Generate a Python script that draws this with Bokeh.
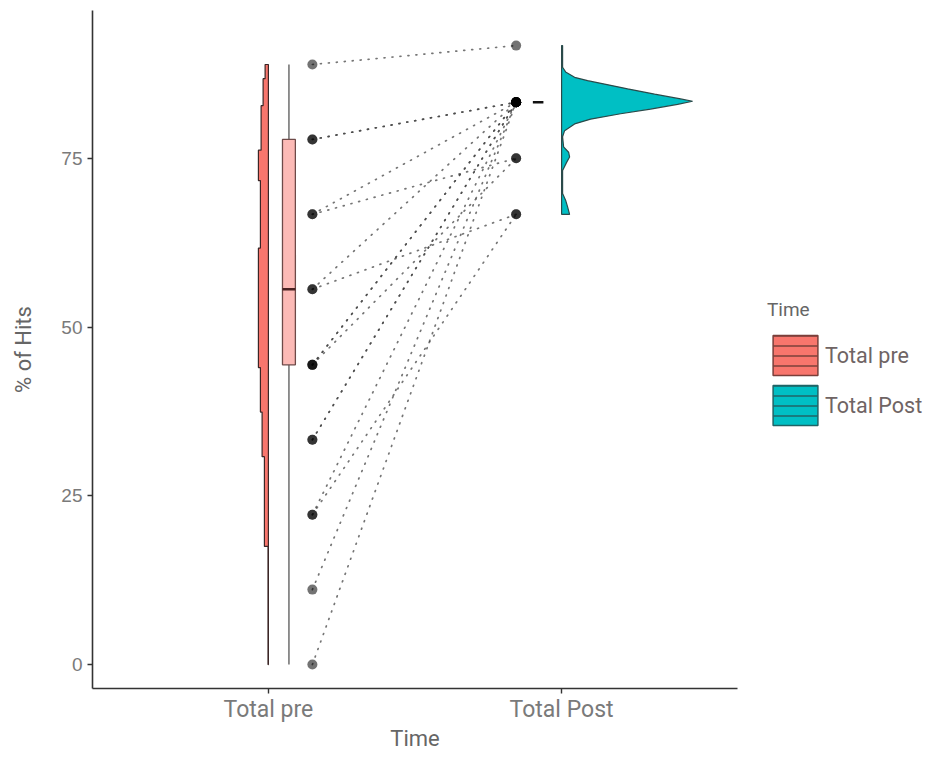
from bokeh.plotting import figure
from bokeh.models import Range1d, FixedTicker, Legend, LegendItem, ColumnDataSource
from bokeh.layouts import row
from bokeh.embed import file_html
from bokeh.resources import INLINE

# ---------------- data ----------------
categories = ["Total pre", "Total Post"]
colors = ["#F8766D", "#00BFC4"]

# paired subject scores (% of hits)
pre_scores = [88.9, 77.8, 77.8, 66.7, 66.7, 55.6, 55.6, 44.4, 44.4, 44.4,
              33.3, 33.3, 22.2, 22.2, 11.1, 0.0]
post_scores = [91.7, 83.3, 83.3, 83.3, 75.0, 83.3, 66.7, 83.3, 83.3, 75.0,
               83.3, 83.3, 83.3, 66.7, 83.3, 83.3]

# box statistics: lower whisker, Q1, median, Q3, upper whisker
pre_box = [0.0, 44.4, 55.6, 77.8, 88.9]
post_box = [83.3, 83.3, 83.3, 83.3, 83.3]

# pre half-violin: step edges and relative density per step
pre_violin_edges = [0.0, 17.5, 30.8, 37.4, 44.0, 61.7, 71.7, 76.2, 82.8, 86.8, 88.9]
pre_violin_density = [0.4, 4.0, 6.3, 8.0, 10.0, 8.0, 10.0, 7.3, 5.3, 3.3]

# post half-violin: profile points
post_violin_y = [66.7, 67.8, 68.8, 69.8, 70.5, 73.2, 74.4, 75.2, 75.9, 76.7, 78.2,
                 79.1, 80.1, 80.8, 81.6, 82.3, 83.0, 83.45, 83.8, 84.5, 85.3, 86.0,
                 86.5, 87.0, 87.8, 88.5, 91.7]
post_violin_density = [8, 6, 4, 1, 1, 1, 5, 8, 7, 2, 1, 3, 13, 29, 59, 89, 116, 131,
                       119, 93, 66, 43, 26, 13, 4, 1, 1]

y_ticks = [0, 25, 50, 75]

# ---------------- layout constants ----------------
PRE_X, POST_X = 1.0, 2.0
X_LO, X_HI = 0.4, 2.6
PX_PER_X = 645.0 / (X_HI - X_LO)
DENS_SCALE = 1.0 / PX_PER_X    # density units -> x units
PT_OFF = 0.15
BOX_OFF = 0.07
BOX_HW = 0.022

FONT = "Roboto"
H = 753
MAIN_W, LEG_W = 750, 174
LEFT, RIGHT, TOP, BOTTOM = 92, 13, 10, 64

p = figure(width=MAIN_W, height=H, output_backend="svg", toolbar_location=None,
           x_range=Range1d(X_LO, X_HI), y_range=Range1d(-3.55, 96.9),
           min_border_left=LEFT, min_border_right=RIGHT, min_border_top=TOP,
           min_border_bottom=BOTTOM)
p.xgrid.visible = False
p.ygrid.visible = False
p.outline_line_color = None
p.background_fill_color = "white"
p.border_fill_color = "white"

# ---------------- pre violin (extends left) ----------------
vx, vy = [], []
for i, d in enumerate(pre_violin_density):
    vx += [PRE_X - d * DENS_SCALE, PRE_X - d * DENS_SCALE]
    vy += [pre_violin_edges[i], pre_violin_edges[i + 1]]
vx += [PRE_X, PRE_X]
vy += [pre_violin_edges[-1], pre_violin_edges[0]]
p.patch(vx, vy, fill_color=colors[0], line_color="#3b2626", line_width=1.2)

# ---------------- post violin (extends right) ----------------
wx = [POST_X + d * DENS_SCALE for d in post_violin_density] + [POST_X, POST_X]
wy = list(post_violin_y) + [post_violin_y[-1], post_violin_y[0]]
p.patch(wx, wy, fill_color=colors[1], line_color="#2a4a4a", line_width=1.2)

# ---------------- boxplots ----------------
bx = PRE_X + BOX_OFF
p.segment(x0=[bx, bx], y0=[pre_box[0], pre_box[3]], x1=[bx, bx], y1=[pre_box[1], pre_box[4]],
          line_color="#777777", line_width=1.6)
p.quad(left=[bx - BOX_HW], right=[bx + BOX_HW], bottom=[pre_box[1]], top=[pre_box[3]],
       fill_color="#FCBAB6", line_color="#6e4a48", line_width=1.3)
p.segment(x0=[bx - BOX_HW], x1=[bx + BOX_HW], y0=[pre_box[2]], y1=[pre_box[2]],
          line_color="#4a2222", line_width=2.5)

px_ = POST_X - BOX_OFF - 0.01
p.segment(x0=[px_, px_], y0=[post_box[0], post_box[3]], x1=[px_, px_], y1=[post_box[1], post_box[4]],
          line_color="#222222", line_width=1.5)
p.segment(x0=[px_ - 0.018], x1=[px_ + 0.018], y0=[post_box[2]], y1=[post_box[2]],
          line_color="#111111", line_width=2.5)

# ---------------- paired lines and points ----------------
n = len(pre_scores)
src = ColumnDataSource(dict(
    x0=[PRE_X + PT_OFF] * n, y0=pre_scores,
    x1=[POST_X - PT_OFF - 0.005] * n, y1=post_scores))
p.segment(x0="x0", y0="y0", x1="x1", y1="y1", source=src, line_color="#3a3a3a",
          line_width=1.7, line_dash="1 7", line_cap="round", line_alpha=0.7)
p.scatter(x="x0", y="y0", source=src, size=10, fill_color="black", line_color=None, fill_alpha=0.55)
p.scatter(x="x1", y="y1", source=src, size=10, fill_color="black", line_color=None, fill_alpha=0.55)

# ---------------- axes ----------------
p.xaxis.ticker = FixedTicker(ticks=[PRE_X, POST_X])
p.xaxis.major_label_overrides = {PRE_X: categories[0], POST_X: categories[1]}
p.yaxis.ticker = FixedTicker(ticks=y_ticks)
for ax in (p.xaxis[0], p.yaxis[0]):
    ax.axis_line_color = "#333333"
    ax.axis_line_width = 1.6
    ax.major_tick_line_color = "#333333"
    ax.major_tick_line_width = 1.4
    ax.major_tick_out = 5
    ax.major_tick_in = 0
    ax.minor_tick_out = 0
    ax.minor_tick_in = 0
    ax.major_label_text_color = "#7a7a7a"
    ax.axis_label_text_color = "#666666"
    ax.axis_label_text_font = FONT
    ax.axis_label_text_font_style = "normal"

p.xaxis.major_label_text_font = FONT
p.xaxis.major_label_text_font_size = "23px"
p.xaxis.major_label_standoff = 2
p.xaxis.axis_label = "Time"
p.xaxis.axis_label_text_font_size = "22px"
p.xaxis.axis_label_standoff = 0

p.yaxis.major_label_text_font = "Liberation Sans"
p.yaxis.major_label_text_font_size = "19px"
p.yaxis.major_label_standoff = 5
p.yaxis.axis_label = "% of Hits"
p.yaxis.axis_label_text_font_size = "22px"
p.yaxis.axis_label_standoff = 22

# ---------------- legend panel ----------------
lg = figure(width=LEG_W, height=H, output_backend="svg", toolbar_location=None,
            x_range=Range1d(0, 1), y_range=Range1d(0, 1),
            x_axis_location=None, y_axis_location=None, min_border=0)
lg.xgrid.visible = False
lg.ygrid.visible = False
lg.outline_line_color = None
lg.border_fill_color = "white"

nan = float("nan")
k_pre = lg.quad(left=[nan], right=[nan], top=[nan], bottom=[nan], fill_color=colors[0],
                line_color="#7a3f3a", line_width=1.5, hatch_pattern="horizontal_line",
                hatch_scale=10, hatch_color="#7a3f3a", hatch_weight=1.5)
k_post = lg.quad(left=[nan], right=[nan], top=[nan], bottom=[nan], fill_color=colors[1],
                 line_color="#1f6466", line_width=1.5, hatch_pattern="horizontal_line",
                 hatch_scale=10, hatch_color="#1f6466", hatch_weight=1.5)
legend = Legend(items=[LegendItem(label=categories[0], renderers=[k_pre]),
                       LegendItem(label=categories[1], renderers=[k_post])],
                location=(17, 258), title="Time",
                border_line_color=None, background_fill_alpha=0, padding=0, margin=0,
                spacing=0, glyph_width=56, glyph_height=50, label_standoff=2,
                label_text_font=FONT, label_text_font_size="21.5px", label_text_color="#6f6464",
                title_text_font=FONT, title_text_font_size="19px", title_text_color="#666666",
                title_text_font_style="normal", title_standoff=9)
lg.add_layout(legend)

layout = row(p, lg)
open("out.html", "w").write(file_html(layout, INLINE))
